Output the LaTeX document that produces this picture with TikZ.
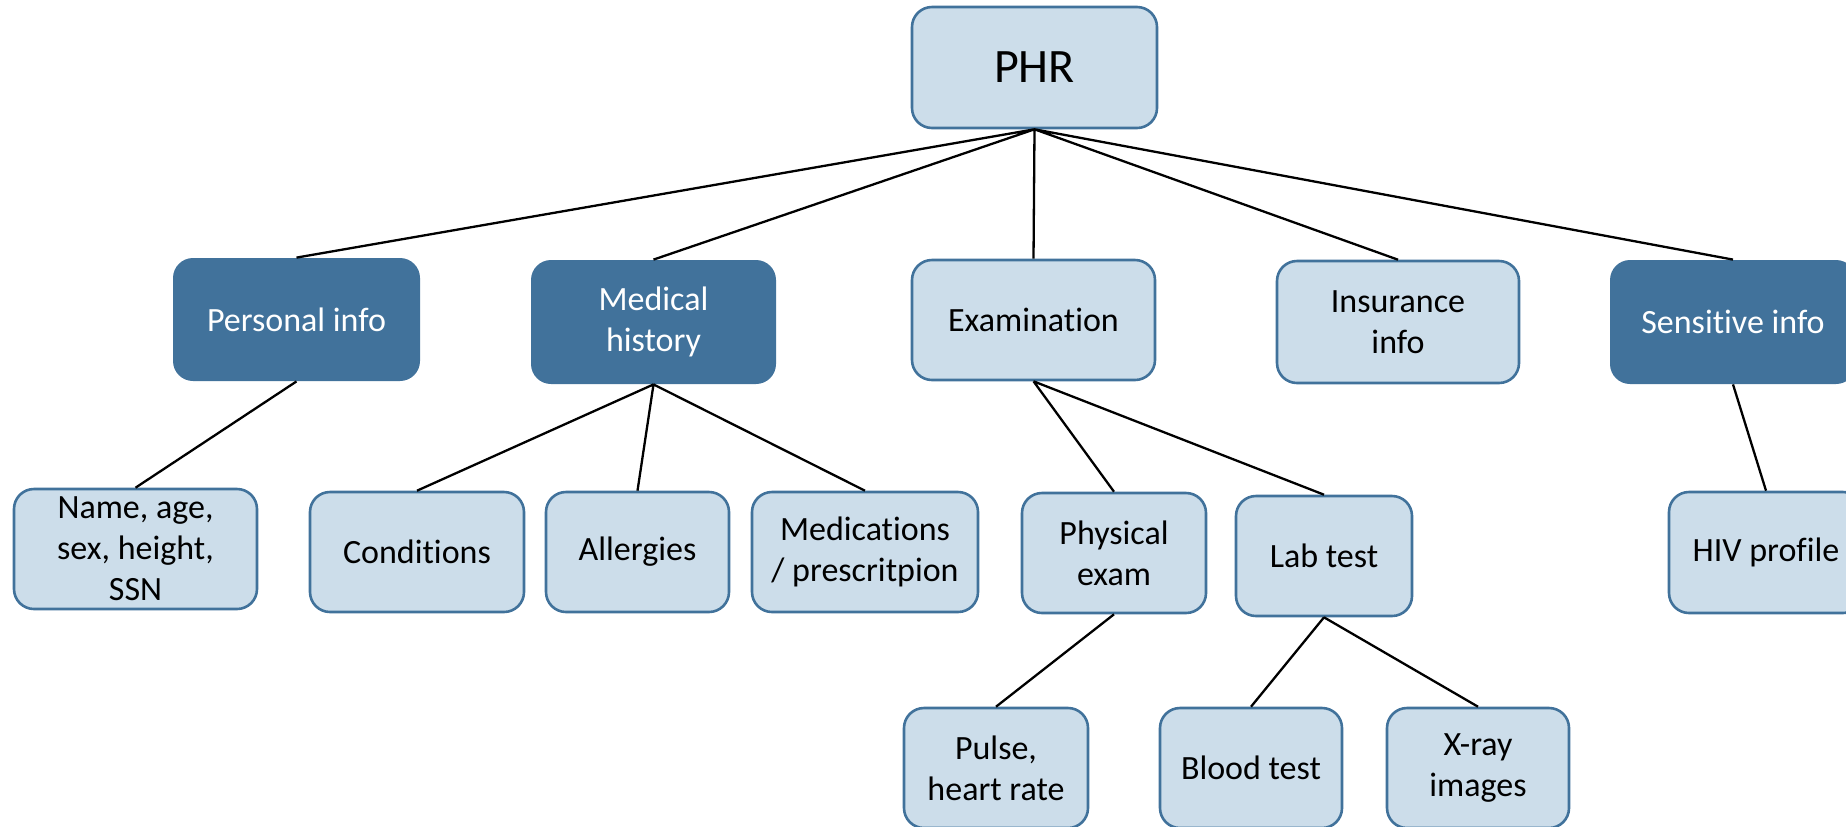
\documentclass[tikz,border=0pt]{standalone}
\usepackage{fontspec}
\setmainfont{Carlito}[Ligatures=CommonOff]
\usepackage{xcolor}
\usetikzlibrary{positioning}
\definecolor{phrlight}{RGB}{204,221,234}
\definecolor{phrdark}{RGB}{65,114,155}

\begin{document}
\begin{tikzpicture}[x=0.5pt, y=-0.5pt,
    leaf/.style={draw=phrdark, line width=1.3pt, fill=phrlight, rounded corners=10pt,
                 align=center, inner sep=0pt, font=\fontsize{17}{20.5}\selectfont},
    group/.style={fill=phrdark, text=white, rounded corners=10pt,
                 align=center, inner sep=0pt, font=\fontsize{17}{20.5}\selectfont},
    link/.style={line width=1.15pt}]

    \useasboundingbox (0,0) rectangle (1846,826);
    \clip (0,0) rectangle (1846,826);

    % root
    \node[leaf, minimum width=122.5pt, minimum height=60.5pt,
          font=\fontsize{24}{28}\selectfont] (phr) at (1034.5,67.5) {PHR};

    % first level
    \node[group, minimum width=123.5pt, minimum height=61.5pt] (personal) at (296.5,319.5) {Personal info};
    \node[group, minimum width=122.5pt, minimum height=62pt] (medical) at (653.5,322) {Medical\\history};
    \node[leaf, minimum width=121.5pt, minimum height=60pt] (exam) at (1033.5,320) {Examination};
    \node[leaf, minimum width=121pt, minimum height=61pt] (insurance) at (1398,322) {Insurance\\info};
    \node[group, minimum width=123pt, minimum height=62pt] (sensitive) at (1733,322) {Sensitive info};

    % second level
    \node[leaf, minimum width=121.5pt, minimum height=60pt] (name) at (135.5,549) {Name, age,\\sex, height,\\SSN};
    \node[leaf, minimum width=107pt, minimum height=60pt] (conditions) at (417,552) {Conditions};
    \node[leaf, minimum width=91.5pt, minimum height=60pt] (allergies) at (637.5,552) {Allergies};
    \node[leaf, minimum width=113pt, minimum height=60pt] (medications) at (865,552) {Medications\\/ prescritpion};
    \node[leaf, minimum width=92pt, minimum height=60pt] (physical) at (1114,553) {Physical\\exam};
    \node[leaf, minimum width=88pt, minimum height=60pt] (labtest) at (1324,556) {Lab test};
    \node[leaf, minimum width=97pt, minimum height=60.5pt] (hiv) at (1766,552.5) {HIV profile};

    % third level
    \node[leaf, minimum width=92pt, minimum height=60pt] (pulse) at (996,768) {Pulse,\\heart rate};
    \node[leaf, minimum width=91pt, minimum height=60pt] (blood) at (1251,768) {Blood test};
    \node[leaf, minimum width=91pt, minimum height=60pt] (xray) at (1478,768) {X-ray\\images};

    \draw[link] (phr.south) -- (personal.north)
                (phr.south) -- (medical.north)
                (phr.south) -- (exam.north)
                (phr.south) -- (insurance.north)
                (phr.south) -- (sensitive.north);

    \draw[link] (personal.south) -- (name.north)
                (medical.south) -- (conditions.north)
                (medical.south) -- (allergies.north)
                (medical.south) -- (medications.north)
                (exam.south) -- (physical.north)
                (exam.south) -- (labtest.north)
                (sensitive.south) -- (hiv.north);

    \draw[link] (physical.south) -- (pulse.north)
                (labtest.south) -- (blood.north)
                (labtest.south) -- (xray.north);

\end{tikzpicture}
\end{document}
